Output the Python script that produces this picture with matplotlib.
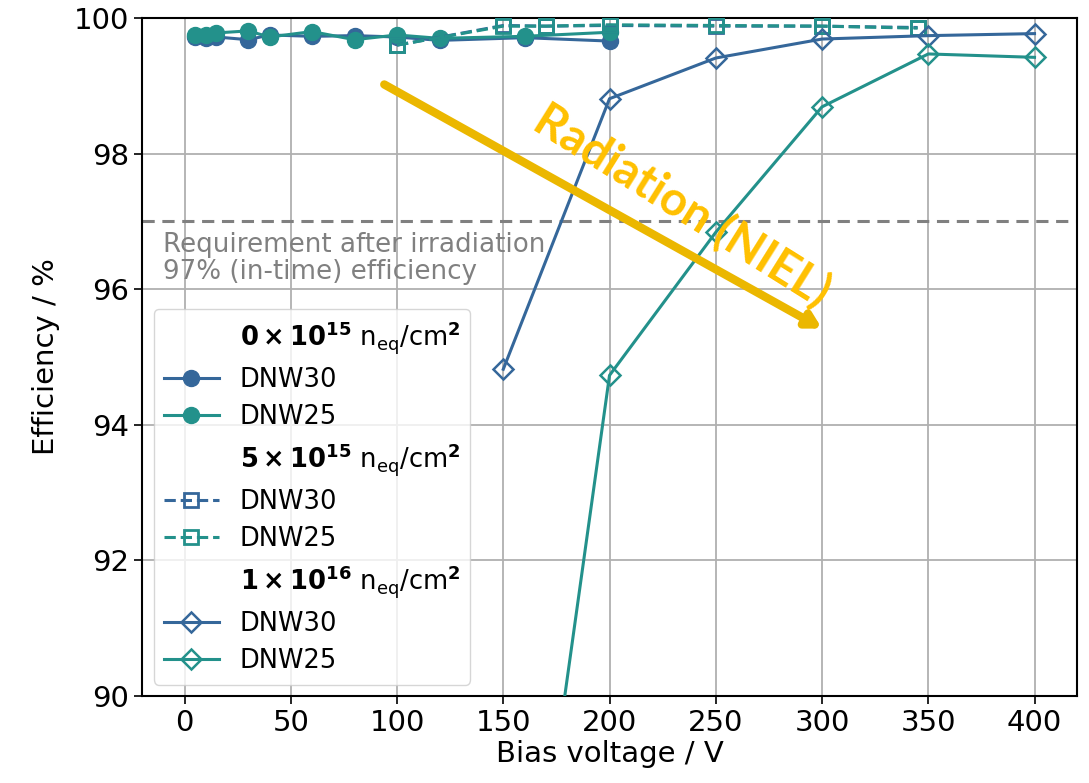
import matplotlib
matplotlib.use('Agg')
import matplotlib.pyplot as plt
from matplotlib.lines import Line2D

# fluence 0e15
volt_0 = [5, 10, 15, 30, 40, 60, 80, 100, 120, 160, 200]
eff_0_dnw30 = [99.72, 99.71, 99.72, 99.68, 99.75, 99.73, 99.74, 99.72, 99.67, 99.71, 99.66]
eff_0_dnw25 = [99.75, 99.75, 99.78, 99.81, 99.72, 99.80, 99.68, 99.75, 99.70, 99.73, 99.79]

# fluence 5e15
volt_5 = [100, 150, 170, 200, 250, 300, 345]
eff_5_dnw30 = [99.60, 99.89, 99.88, 99.89, 99.88, 99.88, 99.86]
eff_5_dnw25 = [99.60, 99.88, 99.88, 99.90, 99.89, 99.88, 99.85]

# fluence 1e16
volt_16 = [150, 200, 250, 300, 350, 400]
eff_16_dnw30 = [94.82, 98.81, 99.41, 99.69, 99.74, 99.77]
eff_16_dnw25 = [83.5, 94.73, 96.84, 98.69, 99.47, 99.42]

fluence_labels = [r'$\mathbf{0\times10^{15}}$ n$_{\mathrm{eq}}$/cm$^{\mathbf{2}}$',
                  r'$\mathbf{5\times10^{15}}$ n$_{\mathrm{eq}}$/cm$^{\mathbf{2}}$',
                  r'$\mathbf{1\times10^{16}}$ n$_{\mathrm{eq}}$/cm$^{\mathbf{2}}$']

c30 = '#35679a'
c25 = '#23918b'
lw = 2.2

fig = plt.figure(figsize=(10.89, 7.83), dpi=100)
ax = fig.add_axes([0.1304, 0.111, 0.8586, 0.866])

h = {}
h['0_30'], = ax.plot(volt_0, eff_0_dnw30, '-o', color=c30, lw=lw, ms=11.5, zorder=3)
h['0_25'], = ax.plot(volt_0, eff_0_dnw25, '-o', color=c25, lw=lw, ms=11.5, zorder=3)
h['5_30'], = ax.plot(volt_5, eff_5_dnw30, '--s', color=c30, lw=lw, ms=10, mfc='none', mew=2, zorder=3)
h['5_25'], = ax.plot(volt_5, eff_5_dnw25, '--s', color=c25, lw=lw, ms=10, mfc='none', mew=2, zorder=3)
h['16_30'], = ax.plot(volt_16, eff_16_dnw30, '-D', color=c30, lw=lw, ms=10, mfc='none', mew=1.8, zorder=3)
h['16_25'], = ax.plot(volt_16, eff_16_dnw25, '-D', color=c25, lw=lw, ms=10, mfc='none', mew=1.8, zorder=3)

ax.axhline(97, color='gray', ls=(0, (4, 2.5)), lw=2.2, zorder=2)
ax.text(-10, 96.84, 'Requirement after irradiation\n97% (in-time) efficiency',
        color='gray', fontsize=18.8, va='top', ha='left', linespacing=1.05)

ax.set_xlim(-20, 420)
ax.set_ylim(90, 100)
ax.set_xticks(range(0, 401, 50))
ax.set_yticks(range(90, 101, 2))
ax.tick_params(labelsize=21, length=6, width=1.2)
ax.grid(True, color='#b0b0b0', lw=1.3)
ax.set_axisbelow(True)
for s in ax.spines.values():
    s.set_linewidth(1.5)
ax.set_xlabel('Bias voltage / V', fontsize=21, labelpad=2)
ax.set_ylabel('Efficiency / %', fontsize=21, labelpad=10)

# legend with fluence headers
blank = Line2D([], [], linestyle='none')
handles = [blank, h['0_30'], h['0_25'], blank, h['5_30'], h['5_25'], blank, h['16_30'], h['16_25']]
labels = [fluence_labels[0], 'DNW30', 'DNW25',
          fluence_labels[1], 'DNW30', 'DNW25',
          fluence_labels[2], 'DNW30', 'DNW25']
ax.legend(handles, labels, loc='lower left', fontsize=18.5, handlelength=2.15,
          labelspacing=0.43, borderaxespad=0.45)

# radiation arrow
ax.annotate('', xy=(300, 95.42), xytext=(94, 99.02),
            arrowprops=dict(arrowstyle='-|>,head_length=0.8,head_width=0.45',
                            color='#ebb700', lw=6, shrinkA=0, shrinkB=0), zorder=5)
ax.text(234, 97.22, 'Radiation (NIEL)', color='#ffc000', fontsize=34, fontweight='bold',
        family='Lato', rotation=-32, rotation_mode='anchor', ha='center', va='center', zorder=6)

fig.savefig('out.png', dpi=100)
